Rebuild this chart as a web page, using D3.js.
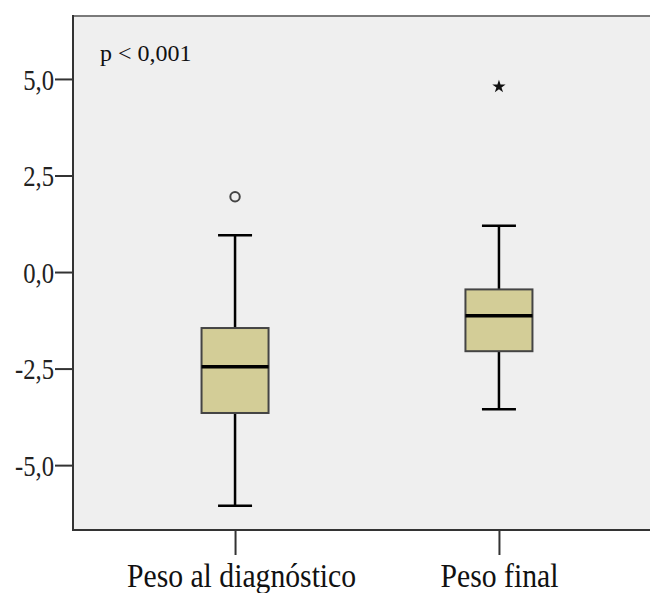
<!DOCTYPE html>
<html>
<head>
<meta charset="utf-8">
<script src="https://cdn.jsdelivr.net/npm/d3@7"></script>
<style>
  body { margin: 0; background: #fff; }
  svg { display: block; }
</style>
</head>
<body>
<div id="chart"></div>
<script>
// boxplot data
var categories = ["Peso al diagnóstico", "Peso final"];
var whiskerLow = [-6.05, -3.55];
var q1 = [-3.65, -2.05];
var median = [-2.45, -1.13];
var q3 = [-1.45, -0.45];
var whiskerHigh = [0.95, 1.2];
var outlierCat = [0, 1];
var outlierVal = [1.95, 4.8];
var outlierKind = ["circle", "star"];
var yTicks = [-5, -2.5, 0, 2.5, 5];
var pLabel = "p < 0,001";

var chartW = 650, chartH = 593;
var plotL = 73, plotT = 16, plotB = 530, plotR = 661;

var svg = d3.select("#chart").append("svg")
  .attr("width", chartW)
  .attr("height", chartH);

var x = d3.scalePoint().domain(d3.range(categories.length))
  .range([plotL, plotR]).padding(0.614);
var y = d3.scaleLinear().domain([-6.68, 6.63]).range([plotB, plotT]);

var boxW = 67;
// comma decimals and a plain hyphen for the minus sign
var fmt = function (d) { return d3.format(".1f")(d).replace(".", ",").replace("\u2212", "-"); };

// plot background
svg.append("rect")
  .attr("x", plotL).attr("y", plotT)
  .attr("width", plotR - plotL).attr("height", plotB - plotT)
  .attr("fill", "#efefef");

// top border
svg.append("line")
  .attr("x1", plotL).attr("x2", chartW).attr("y1", plotT).attr("y2", plotT)
  .attr("stroke", "#7a7a7a").attr("stroke-width", 2);

// y axis
var yAxis = svg.append("g")
  .attr("transform", "translate(" + plotL + ",0)")
  .call(d3.axisLeft(y).tickValues(yTicks).tickFormat(fmt).tickSize(18).tickSizeOuter(0));
yAxis.select(".domain").remove();
yAxis.selectAll(".tick line").attr("stroke", "#333").attr("stroke-width", 2);
yAxis.selectAll(".tick text")
  .attr("x", 0)
  .attr("dy", "0.35em")
  .attr("font-family", "Liberation Serif, Times New Roman, serif")
  .attr("font-size", 29)
  .attr("fill", "#222")
  .attr("text-anchor", "end")
  .attr("transform", "translate(-19,0) scale(0.85,1)");

// x axis
var xAxis = svg.append("g")
  .attr("transform", "translate(0," + plotB + ")")
  .call(d3.axisBottom(x).tickFormat(function (i) { return categories[i]; }).tickSize(25).tickSizeOuter(0));
xAxis.select(".domain").remove();
xAxis.selectAll(".tick line").attr("stroke", "#333").attr("stroke-width", 2);
xAxis.selectAll(".tick text")
  .attr("y", 0)
  .attr("dy", 0)
  .attr("font-family", "Liberation Serif, Times New Roman, serif")
  .attr("font-size", 33)
  .attr("fill", "#111")
  .attr("transform", function (i) { return "translate(" + (i == 0 ? 6 : 0) + ",57) scale(0.9,1)"; });

// axis lines
svg.append("line")
  .attr("x1", plotL).attr("x2", plotL).attr("y1", plotT - 1).attr("y2", plotB + 1)
  .attr("stroke", "#333").attr("stroke-width", 2);
svg.append("line")
  .attr("x1", plotL - 1).attr("x2", chartW).attr("y1", plotB).attr("y2", plotB)
  .attr("stroke", "#333").attr("stroke-width", 2);

// boxes
var idx = d3.range(categories.length);
var g = svg.append("g");

// whiskers
g.selectAll(".whisker").data(idx).enter().append("line")
  .attr("x1", function (i) { return x(i); }).attr("x2", function (i) { return x(i); })
  .attr("y1", function (i) { return y(whiskerLow[i]); })
  .attr("y2", function (i) { return y(whiskerHigh[i]); })
  .attr("stroke", "#000").attr("stroke-width", 2.5);

[whiskerLow, whiskerHigh].forEach(function (arr) {
  g.selectAll(null).data(idx).enter().append("line")
    .attr("x1", function (i) { return x(i) - 17; }).attr("x2", function (i) { return x(i) + 17; })
    .attr("y1", function (i) { return y(arr[i]); }).attr("y2", function (i) { return y(arr[i]); })
    .attr("stroke", "#000").attr("stroke-width", 2.5);
});

g.selectAll(".box").data(idx).enter().append("rect")
  .attr("x", function (i) { return x(i) - boxW / 2; })
  .attr("y", function (i) { return y(q3[i]); })
  .attr("width", boxW)
  .attr("height", function (i) { return y(q1[i]) - y(q3[i]); })
  .attr("fill", "#d3cd97")
  .attr("stroke", "#444").attr("stroke-width", 2);

g.selectAll(".median").data(idx).enter().append("line")
  .attr("x1", function (i) { return x(i) - boxW / 2; }).attr("x2", function (i) { return x(i) + boxW / 2; })
  .attr("y1", function (i) { return y(median[i]); }).attr("y2", function (i) { return y(median[i]); })
  .attr("stroke", "#000").attr("stroke-width", 3.5);

// outliers
var oi = d3.range(outlierVal.length);
g.selectAll(".outlier").data(oi).enter().append("path")
  .attr("transform", function (k) { return "translate(" + x(outlierCat[k]) + "," + y(outlierVal[k]) + ")"; })
  .attr("d", function (k) {
    return outlierKind[k] == "star"
      ? d3.symbol().type(d3.symbolStar).size(55)()
      : d3.symbol().type(d3.symbolCircle).size(70)();
  })
  .attr("fill", function (k) { return outlierKind[k] == "star" ? "#111" : "none"; })
  .attr("stroke", function (k) { return outlierKind[k] == "star" ? "none" : "#444"; })
  .attr("stroke-width", 2);

// p value note
svg.append("text")
  .attr("x", 100).attr("y", 61)
  .attr("font-family", "Liberation Serif, serif")
  .attr("font-size", 24)
  .attr("fill", "#111")
  .text(pLabel);
</script>
</body>
</html>
